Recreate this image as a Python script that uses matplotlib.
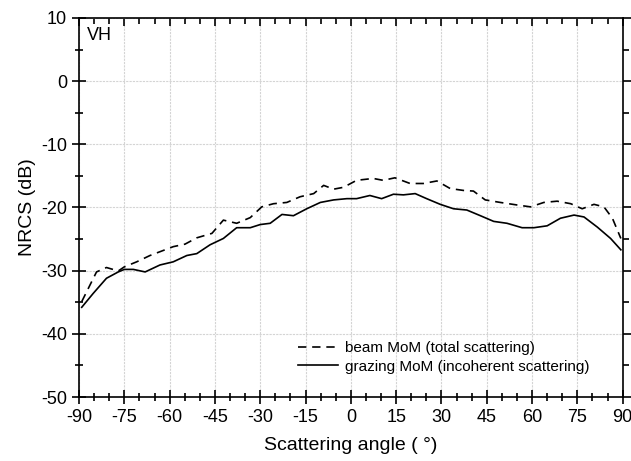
import matplotlib
matplotlib.use("Agg")
import matplotlib.pyplot as plt
from matplotlib.ticker import MultipleLocator

plt.rcParams['font.family'] = ['Liberation Sans', 'DejaVu Sans']
plt.rcParams['axes.unicode_minus'] = False

beam_angle = [-89.1, -84.2, -80.9, -77.0, -75.0, -70.9, -66.5, -63.2, -58.8, -54.9, -51.0, -46.0,
              -42.2, -37.8, -33.3, -29.5, -25.6, -21.2, -16.8, -12.3, -9.0, -5.7, -2.4, 1.9,
              7.4, 10.7, 14.6, 19.6, 24.0, 28.5, 32.9, 37.3, 40.6, 44.5, 49.5, 55.0, 59.5,
              63.9, 68.3, 72.8, 76.6, 80.5, 83.8, 86.6, 89.4]
beam_nrcs = [-34.9, -30.2, -29.5, -30.05, -29.4, -28.6, -27.6, -27.0, -26.2, -25.8, -24.8, -24.1,
             -22.0, -22.5, -21.6, -19.9, -19.4, -19.2, -18.3, -17.8, -16.5, -17.1, -16.8, -15.7,
             -15.4, -15.7, -15.3, -16.2, -16.2, -15.8, -17.0, -17.3, -17.4, -18.8, -19.2, -19.6, -19.9,
             -19.2, -19.0, -19.4, -20.2, -19.5, -19.9, -21.7, -24.9]

graz_angle = [-89.1, -85.3, -80.9, -77.0, -75.0, -72.0, -68.1, -63.2, -58.8, -54.3, -51.0, -46.6,
              -42.2, -37.8, -33.3, -30.0, -26.7, -22.8, -19.0, -14.6, -10.1, -5.7, -1.3, 1.9,
              6.3, 10.2, 14.1, 17.4, 21.3, 25.1, 29.6, 34.0, 38.4, 42.9, 47.3, 51.7, 56.7,
              60.6, 65.0, 69.4, 73.9, 77.2, 81.6, 86.0, 89.4]
graz_nrcs = [-35.8, -33.6, -31.2, -30.2, -29.8, -29.8, -30.2, -29.1, -28.6, -27.6, -27.3, -25.9,
             -24.9, -23.2, -23.2, -22.7, -22.5, -21.1, -21.3, -20.2, -19.2, -18.8, -18.6, -18.6,
             -18.1, -18.6, -17.9, -18.0, -17.8, -18.6, -19.5, -20.2, -20.4, -21.3, -22.2, -22.5, -23.2,
             -23.2, -22.9, -21.7, -21.2, -21.5, -23.1, -24.9, -26.7]

x_ticks = list(range(-90, 91, 15))
y_ticks = list(range(-50, 11, 10))

fig = plt.figure(figsize=(6.31, 4.61), dpi=100)
ax = fig.add_axes([0.1252, 0.1388, 0.8616, 0.8222])

ax.plot(beam_angle, beam_nrcs, color='black', lw=1.2, ls=(0, (5, 3.5)),
        label='beam MoM (total scattering)')
ax.plot(graz_angle, graz_nrcs, color='black', lw=1.2, ls='-',
        label='grazing MoM (incoherent scattering)')

ax.set_xlim(-90, 90)
ax.set_ylim(-50, 10)
ax.set_xticks(x_ticks)
ax.set_yticks(y_ticks)
ax.xaxis.set_minor_locator(MultipleLocator(5))
ax.yaxis.set_minor_locator(MultipleLocator(5))
ax.grid(True, which='major', color='#d4d4d4', ls=(0, (2, 1)), lw=0.8)

ax.tick_params(which='both', top=True, right=True, labelsize=13, width=1.2, color='black')
ax.tick_params(which='major', direction='inout', length=10)
ax.tick_params(which='minor', direction='inout', length=6)
for tick in ax.xaxis.get_major_ticks() + ax.xaxis.get_minor_ticks():
    tick.tick2line.set_marker(3)  # inward on top
for tick in ax.yaxis.get_major_ticks() + ax.yaxis.get_minor_ticks():
    tick.tick2line.set_marker(1)  # inward on right
for t in ax.xaxis.get_major_ticks():
    t.tick2line.set_markersize(6)
for t in ax.xaxis.get_minor_ticks():
    t.tick2line.set_markersize(4)
for t in ax.yaxis.get_major_ticks():
    t.tick2line.set_markersize(6)
for t in ax.yaxis.get_minor_ticks():
    t.tick2line.set_markersize(4)
for s in ax.spines.values():
    s.set_linewidth(1.2)

ax.set_xlabel('Scattering angle ( °)', fontsize=14, labelpad=8)
ax.set_ylabel('NRCS (dB)', fontsize=14, labelpad=4)
ax.text(0.015, 0.975, 'VH', transform=ax.transAxes, fontsize=13, va='top', ha='left')

ax.legend(loc='lower right', bbox_to_anchor=(0.965, 0.025), frameon=False, fontsize=11,
          handlelength=2.6, handletextpad=0.5, labelspacing=0.3)

fig.savefig('out.png', dpi=100)
